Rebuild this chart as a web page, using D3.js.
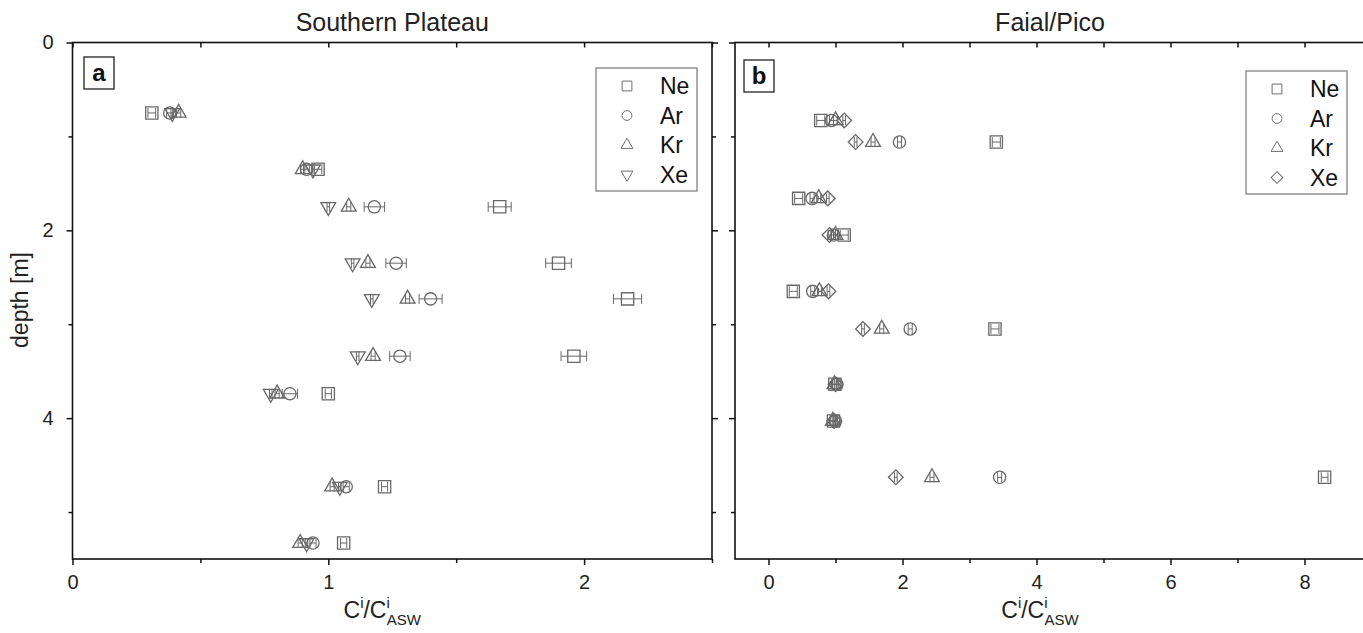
<!DOCTYPE html>
<html>
<head>
<meta charset="utf-8">
<script src="https://cdn.jsdelivr.net/npm/d3@7"></script>
<style>
  body { margin: 0; background: #fff; }
  text { font-family: "Liberation Sans", Arial, sans-serif; }
</style>
</head>
<body>
<script>
// gases, same order in both panels
let gases = ["Ne", "Ar", "Kr", "Xe"];

// panel a: Southern Plateau
let depthA = [0.75, 1.35, 1.75, 2.35, 2.73, 3.34, 3.74, 4.73, 5.33];
let neA = [0.31, 0.96, 1.67, 1.90, 2.17, 1.96, 1.00, 1.22, 1.06];
let neErrA = [0.015, 0.015, 0.045, 0.05, 0.055, 0.05, 0.012, 0.012, 0.012];
let arA = [0.38, 0.915, 1.18, 1.265, 1.40, 1.28, 0.85, 1.07, 0.94];
let arErrA = [0.012, 0.012, 0.04, 0.04, 0.045, 0.04, 0.03, 0.012, 0.012];
let krA = [0.415, 0.90, 1.08, 1.155, 1.31, 1.175, 0.80, 1.015, 0.89];
let krErrA = [0.008, 0.008, 0.008, 0.008, 0.008, 0.008, 0.008, 0.008, 0.008];
let xeA = [0.39, 0.94, 1.00, 1.095, 1.17, 1.115, 0.775, 1.045, 0.915];
let xeErrA = [0.005, 0.005, 0.005, 0.005, 0.005, 0.005, 0.005, 0.005, 0.005];

// panel b: Faial/Pico
let depthB = [0.83, 1.06, 1.66, 2.05, 2.65, 3.05, 3.64, 4.03, 4.63];
let neB = [0.78, 3.40, 0.45, 1.13, 0.37, 3.38, 0.99, 0.97, 8.30];
let neErrB = [0.06, 0.06, 0.06, 0.06, 0.06, 0.06, 0.05, 0.05, 0.05];
let arB = [0.94, 1.955, 0.65, 0.97, 0.66, 2.115, 1.02, 1.00, 3.45];
let arErrB = [0.03, 0.03, 0.03, 0.03, 0.03, 0.03, 0.03, 0.03, 0.03];
let krB = [1.00, 1.56, 0.75, 1.00, 0.76, 1.69, 0.985, 0.96, 2.44];
let krErrB = [0.03, 0.03, 0.03, 0.03, 0.03, 0.03, 0.03, 0.03, 0.03];
let xeB = [1.13, 1.30, 0.885, 0.91, 0.895, 1.41, 1.00, 0.98, 1.90];
let xeErrB = [0.02, 0.02, 0.02, 0.02, 0.02, 0.02, 0.02, 0.02, 0.02];

let yTicks = [0, 2, 4];
let yMinor = [1, 3, 5];

let markColor = "#686868";

const svg = d3.select("body").append("svg")
  .attr("width", 1363)
  .attr("height", 633);

let y = d3.scaleLinear().domain([0, 5.5]).range([42.5, 559]);

let panels = [
  {
    title: "Southern Plateau", tag: "a",
    x: d3.scaleLinear().domain([0, 2.5]).range([72.5, 712]),
    major: [0, 1, 2], minor: [0.5, 1.5, 2.5], top: [0, 0.5, 1, 1.5, 2, 2.5],
    depth: depthA, vals: [neA, arA, krA, xeA], errs: [neErrA, arErrA, krErrA, xeErrA],
    xeShape: "down", showY: true, tagBox: [84, 57], legend: [596, 68]
  },
  {
    title: "Faial/Pico", tag: "b",
    x: d3.scaleLinear().domain([-0.5, 8.95]).range([735, 735 + 67 * 9.45]),
    major: [0, 2, 4, 6, 8], minor: [1, 3, 5, 7], top: [0, 1, 2, 3, 4, 5, 6, 7, 8],
    depth: depthB, vals: [neB, arB, krB, xeB], errs: [neErrB, arErrB, krErrB, xeErrB],
    xeShape: "diamond", showY: false, tagBox: [744, 60], legend: [1246, 71]
  }
];

function symbolPath(gas, xeShape) {
  if (gas == "Ne") return d3.symbol(d3.symbolSquare, 150)();
  if (gas == "Ar") return d3.symbol(d3.symbolCircle, 118)();
  if (gas == "Kr") return d3.symbol(d3.symbolTriangle, 95)();
  if (xeShape == "down") return d3.symbol(d3.symbolTriangle, 95)();
  return d3.symbol(d3.symbolSquare, 108)();
}
function symbolRotate(gas, xeShape) {
  if (gas == "Xe" && xeShape == "down") return 180;
  if (gas == "Xe") return 45;
  return 0;
}

panels.forEach(p => {
  let x = p.x;
  let x0 = x.range()[0], x1 = x.range()[1];
  let y0 = y.range()[0], y1 = y.range()[1];
  let mid = (x0 + Math.min(x1, 1365)) / 2;

  // axes
  svg.append("g")
    .attr("transform", "translate(0," + y1 + ")")
    .call(d3.axisBottom(x).tickValues(p.major).tickSize(6).tickPadding(10).tickFormat(d3.format("d")))
    .call(g => g.select(".domain").remove());
  svg.append("g")
    .attr("transform", "translate(0," + y1 + ")")
    .call(d3.axisBottom(x).tickValues(p.minor).tickSize(4).tickFormat(""))
    .call(g => g.select(".domain").remove());
  svg.append("g")
    .attr("transform", "translate(0," + y0 + ")")
    .call(d3.axisBottom(x).tickValues(p.top).tickSize(5).tickFormat(""))
    .call(g => g.select(".domain").remove());

  svg.append("g")
    .attr("transform", "translate(" + x0 + ",0)")
    .call(d3.axisLeft(y).tickValues(yTicks).tickSize(6).tickPadding(13)
      .tickFormat(p.showY ? d3.format("d") : ""))
    .call(g => g.select(".domain").remove());
  svg.append("g")
    .attr("transform", "translate(" + x0 + ",0)")
    .call(d3.axisLeft(y).tickValues(yMinor).tickSize(4).tickFormat(""))
    .call(g => g.select(".domain").remove());
  svg.append("g")
    .attr("transform", "translate(" + x1 + ",0)")
    .call(d3.axisLeft(y).tickValues(yTicks).tickSize(-6).tickFormat(""))
    .call(g => g.select(".domain").remove());
  svg.append("g")
    .attr("transform", "translate(" + x1 + ",0)")
    .call(d3.axisLeft(y).tickValues(yMinor).tickSize(-4).tickFormat(""))
    .call(g => g.select(".domain").remove());

  svg.selectAll(".tick line").attr("stroke", "#111").attr("stroke-width", 1.5);
  svg.selectAll(".tick text").attr("font-size", 20).attr("fill", "#222")
    .attr("font-family", "Liberation Sans, Arial, sans-serif");

  svg.append("rect")
    .attr("x", x0).attr("y", y0)
    .attr("width", x1 - x0).attr("height", y1 - y0)
    .attr("fill", "none").attr("stroke", "#111").attr("stroke-width", 1.6);

  // title
  svg.append("text")
    .attr("x", mid).attr("y", 31)
    .attr("text-anchor", "middle").attr("font-size", 25).attr("fill", "#222")
    .text(p.title);

  // x label
  let xl = svg.append("text")
    .attr("x", mid - 10).attr("y", 618)
    .attr("text-anchor", "middle").attr("font-size", 23).attr("fill", "#222");
  xl.append("tspan").text("C");
  xl.append("tspan").attr("font-size", 15).attr("dy", -10).text("i");
  xl.append("tspan").attr("dy", 10).text("/C");
  xl.append("tspan").attr("font-size", 15).attr("dy", -10).text("i");
  xl.append("tspan").attr("font-size", 15).attr("dx", -3).attr("dy", 17).text("ASW");

  // panel tag
  svg.append("rect")
    .attr("x", p.tagBox[0]).attr("y", p.tagBox[1]).attr("width", 30).attr("height", 32)
    .attr("fill", "#fff").attr("stroke", "#222").attr("stroke-width", 1.3);
  svg.append("text")
    .attr("x", p.tagBox[0] + 15).attr("y", p.tagBox[1] + 24)
    .attr("text-anchor", "middle").attr("font-size", 24).attr("font-weight", "bold")
    .attr("fill", "#111").text(p.tag);

  // data: error bars then markers
  gases.forEach((gas, gi) => {
    let rows = p.depth.map((d, i) => ({ d: d, v: p.vals[gi][i], e: p.errs[gi][i] }));
    let g = svg.append("g").attr("class", "series-" + gas);
    g.selectAll("line.err").data(rows).enter().append("line")
      .attr("x1", r => x(r.v - r.e)).attr("x2", r => x(r.v + r.e))
      .attr("y1", r => y(r.d)).attr("y2", r => y(r.d))
      .attr("stroke", markColor).attr("stroke-width", 1);
    g.selectAll("line.capl").data(rows).enter().append("line")
      .attr("x1", r => x(r.v - r.e)).attr("x2", r => x(r.v - r.e))
      .attr("y1", r => y(r.d) - 5).attr("y2", r => y(r.d) + 5)
      .attr("stroke", markColor).attr("stroke-width", 1);
    g.selectAll("line.capr").data(rows).enter().append("line")
      .attr("x1", r => x(r.v + r.e)).attr("x2", r => x(r.v + r.e))
      .attr("y1", r => y(r.d) - 5).attr("y2", r => y(r.d) + 5)
      .attr("stroke", markColor).attr("stroke-width", 1);
    g.selectAll("path").data(rows).enter().append("path")
      .attr("d", symbolPath(gas, p.xeShape))
      .attr("transform", r => "translate(" + x(r.v) + "," + y(r.d) + ") rotate(" + symbolRotate(gas, p.xeShape) + ")")
      .attr("fill", "none").attr("stroke", markColor).attr("stroke-width", 1.3);
  });

  // legend
  let lg = svg.append("g").attr("transform", "translate(" + p.legend[0] + "," + p.legend[1] + ")");
  lg.append("rect").attr("width", 101).attr("height", 123)
    .attr("fill", "#fff").attr("stroke", "#777").attr("stroke-width", 1.2);
  gases.forEach((gas, gi) => {
    let ly = 18 + gi * 29.5;
    lg.append("path")
      .attr("d", symbolPath(gas, p.xeShape))
      .attr("transform", "translate(31," + ly + ") scale(0.8) rotate(" + symbolRotate(gas, p.xeShape) + ")")
      .attr("fill", "none").attr("stroke", markColor).attr("stroke-width", 1.2);
    lg.append("text").attr("x", 64).attr("y", ly + 8)
      .attr("font-size", 23).attr("fill", "#111").text(gas);
  });
});

// y label
svg.append("text")
  .attr("transform", "translate(28," + 300 + ") rotate(-90)")
  .attr("text-anchor", "middle").attr("font-size", 23).attr("fill", "#222")
  .text("depth [m]");
</script>
</body>
</html>
